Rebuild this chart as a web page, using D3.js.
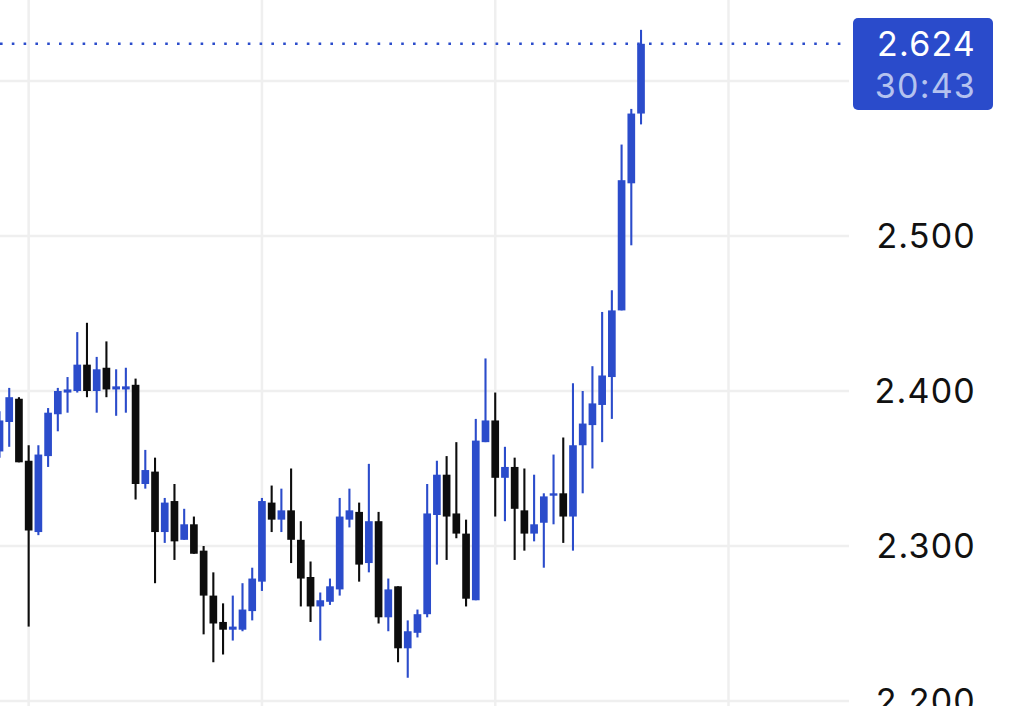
<!DOCTYPE html>
<html>
<head>
<meta charset="utf-8">
<script src="https://cdn.jsdelivr.net/npm/d3@7"></script>
<style>
  html, body { margin: 0; padding: 0; background: #ffffff; }
  svg { display: block; }
</style>
</head>
<body>
<svg id="chart" width="1024" height="706"></svg>
<script>
// ---- data ----
const opens  = [2.361,2.380,2.395,2.355,2.309,2.358,2.385,2.399,2.400,2.417,2.400,2.415,2.401,2.401,2.404,2.340,2.348,2.309,2.329,2.304,2.314,2.297,2.268,2.251,2.246,2.246,2.258,2.277,2.328,2.317,2.323,2.304,2.280,2.261,2.264,2.272,2.317,2.322,2.289,2.316,2.254,2.274,2.234,2.244,2.256,2.320,2.346,2.321,2.308,2.265,2.367,2.381,2.344,2.351,2.323,2.308,2.315,2.333,2.334,2.319,2.365,2.378,2.391,2.409,2.452,2.534,2.579];
const highs  = [2.387,2.402,2.396,2.365,2.365,2.389,2.402,2.409,2.438,2.444,2.422,2.432,2.414,2.415,2.408,2.362,2.357,2.331,2.340,2.324,2.319,2.300,2.283,2.263,2.268,2.276,2.286,2.331,2.339,2.337,2.350,2.316,2.290,2.270,2.279,2.331,2.337,2.328,2.353,2.322,2.279,2.274,2.252,2.259,2.340,2.355,2.358,2.367,2.317,2.382,2.421,2.399,2.364,2.357,2.350,2.346,2.334,2.359,2.370,2.405,2.400,2.416,2.451,2.465,2.559,2.582,2.633];
const lows   = [2.357,2.364,2.354,2.248,2.307,2.351,2.374,2.386,2.399,2.396,2.386,2.396,2.384,2.386,2.330,2.337,2.276,2.302,2.291,2.304,2.295,2.243,2.225,2.230,2.239,2.245,2.252,2.271,2.309,2.309,2.289,2.261,2.251,2.239,2.262,2.268,2.312,2.277,2.283,2.250,2.245,2.225,2.215,2.241,2.254,2.288,2.291,2.305,2.261,2.265,2.367,2.319,2.316,2.291,2.297,2.303,2.286,2.314,2.302,2.297,2.334,2.350,2.367,2.382,2.452,2.494,2.572];
const closes = [2.381,2.396,2.354,2.310,2.359,2.386,2.400,2.401,2.417,2.400,2.414,2.401,2.403,2.403,2.340,2.349,2.309,2.328,2.303,2.314,2.295,2.268,2.250,2.246,2.248,2.259,2.279,2.329,2.317,2.323,2.304,2.279,2.261,2.265,2.274,2.319,2.323,2.288,2.316,2.254,2.272,2.234,2.245,2.256,2.321,2.346,2.319,2.308,2.266,2.368,2.381,2.344,2.351,2.324,2.308,2.314,2.332,2.334,2.319,2.365,2.379,2.392,2.410,2.452,2.536,2.579,2.624];
const priceTicks = [2.2, 2.3, 2.4, 2.5, 2.6];
const timeGridIdx = [3, 27, 51, 75];
const lastPrice = 2.624;
const countdown = "30:43";

// ---- styles ----
const UP = "#2b4ccb", DOWN = "#0d0d0d", GRID = "#efefef";
const svg = d3.select("#chart");
const W = 1024, H = 706, plotRight = 849;

const x = d3.scaleLinear().domain([0, 75]).range([-0.5, -0.5 + 75 * 9.72]);
const y = d3.scaleLinear().domain([2.2, 2.6]).range([701, 81]);
const step = x(1) - x(0);
const bodyW = step * 0.79;

const data = opens.map((o, i) => ({ i, o, h: highs[i], l: lows[i], c: closes[i] }));

// grid
const g = svg.append("g");
g.selectAll("line.h").data(priceTicks).join("line")
  .attr("x1", 0).attr("x2", plotRight)
  .attr("y1", d => y(d)).attr("y2", d => y(d))
  .attr("stroke", GRID).attr("stroke-width", 2.5);
g.selectAll("line.v").data(timeGridIdx).join("line")
  .attr("x1", d => x(d)).attr("x2", d => x(d))
  .attr("y1", 0).attr("y2", H)
  .attr("stroke", GRID).attr("stroke-width", 2.5);

// last price dotted line
svg.append("line")
  .attr("x1", 0).attr("x2", 843)
  .attr("y1", y(lastPrice)).attr("y2", y(lastPrice))
  .attr("stroke", UP).attr("stroke-width", 2.6)
  .attr("stroke-dasharray", "2.6 9.2");

// candles
const cg = svg.append("g").selectAll("g").data(data).join("g");
cg.append("line")
  .attr("x1", d => x(d.i)).attr("x2", d => x(d.i))
  .attr("y1", d => y(d.h)).attr("y2", d => y(d.l))
  .attr("stroke", d => d.c >= d.o ? UP : DOWN)
  .attr("stroke-width", 2.1);
cg.append("rect")
  .attr("x", d => x(d.i) - bodyW / 2)
  .attr("width", bodyW)
  .attr("y", d => y(Math.max(d.o, d.c)))
  .attr("height", d => Math.max(2.4, Math.abs(y(d.o) - y(d.c))))
  .attr("fill", d => d.c >= d.o ? UP : DOWN);

// badge geometry
const bx = 853, bw = 140, by = 18, bh = 92;

// right axis labels (the one hidden under the badge is not drawn)
const font = "Inter, 'Noto Sans', 'DejaVu Sans', sans-serif";
const visibleTicks = priceTicks.filter(d => y(d) > by + bh + 10);
svg.append("g").selectAll("text").data(visibleTicks).join("text")
  .attr("x", 976).attr("y", d => y(d))
  .attr("dy", "0.36em")
  .attr("text-anchor", "end")
  .attr("font-family", font)
  .attr("font-size", 34)
  .attr("letter-spacing", 1.2)
  .attr("fill", "#111111")
  .text(d => d3.format(".3f")(d));

// last price badge
svg.append("rect")
  .attr("x", bx).attr("y", by).attr("width", bw).attr("height", bh)
  .attr("rx", 5).attr("fill", "#2a4bcb");
svg.append("text")
  .attr("x", 976).attr("y", y(lastPrice)).attr("dy", "0.36em")
  .attr("text-anchor", "end")
  .attr("font-family", font).attr("font-size", 34)
  .attr("letter-spacing", 1.2)
  .attr("fill", "#ffffff")
  .text(d3.format(".3f")(lastPrice));
svg.append("text")
  .attr("x", 976).attr("y", y(lastPrice) + 42).attr("dy", "0.36em")
  .attr("text-anchor", "end")
  .attr("font-family", font).attr("font-size", 34)
  .attr("letter-spacing", 1.2)
  .attr("fill", "#b4c2ef")
  .text(countdown);
</script>
</body>
</html>
